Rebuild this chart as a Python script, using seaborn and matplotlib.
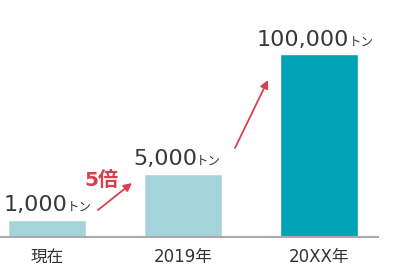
import matplotlib
matplotlib.use("Agg")
import matplotlib.pyplot as plt
import seaborn as sns
import pandas as pd

categories = ["現在", "2019年", "20XX年"]
bar_heights = [17, 63, 183]          # visual (non-proportional) bar heights
value_labels = ["1,000", "5,000", "100,000"]
unit_label = "トン"
ratio_label = "5倍"
bar_colors = ["#a5d3db", "#a5d3db", "#00a3b5"]

sns.set_theme(style="white")
FAM = ['DejaVu Sans', 'Noto Sans CJK JP']
plt.rcParams['font.family'] = FAM

fig = plt.figure(figsize=(4, 2.7), dpi=100)
ax = fig.add_axes([0, (270 - 237) / 270, 378 / 400, 237 / 270])

df = pd.DataFrame({"cat": categories, "h": bar_heights})
sns.barplot(data=df, x="cat", y="h", hue="cat", palette=bar_colors,
            width=0.574, legend=False, ax=ax, saturation=1)

ax.set_xlim(-47 / 136, 2 + 59 / 136)
ax.set_ylim(0, 237)
ax.set_yticks([])
ax.set_xlabel("")
ax.set_ylabel("")
for s in ["top", "left", "right"]:
    ax.spines[s].set_visible(False)
ax.spines["bottom"].set_color("#aaaaaa")
ax.spines["bottom"].set_linewidth(1.5)
ax.tick_params(axis="x", length=0, pad=8, labelsize=12, labelcolor="#333333")
for t in ax.get_xticklabels():
    t.set_family(FAM)

def px(x):
    return (x - 47) / 136

def py(y):
    return 237 - y

# value labels: (number left edge px, baseline px)
label_pos = [(4, 211), (133, 165), (257, 46)]
for (xl, yb), lab in zip(label_pos, value_labels):
    t = ax.text(px(xl), py(yb), lab, ha="left", va="baseline", fontsize=16,
                family="DejaVu Sans", color="#383838", clip_on=False)
    ax.annotate(unit_label, xy=(1, py(yb)), xycoords=(t, "data"),
                xytext=(-0.5, 0), textcoords="offset points",
                ha="left", va="baseline", fontsize=9,
                family="Noto Sans CJK JP", color="#383838",
                annotation_clip=False)

ax.text(px(101), py(186), ratio_label, ha="center", va="baseline",
        fontsize=14.5, family=FAM, fontweight="semibold", color="#d9404f")

arrows = [((98, 210), (132, 183)), ((235, 148), (268, 80))]
for (x0, y0), (x1, y1) in arrows:
    ax.annotate("", xy=(px(x1), py(y1)), xytext=(px(x0), py(y0)),
                arrowprops=dict(arrowstyle="-|>", color="#d9404f", lw=1.3,
                                mutation_scale=12, shrinkA=0, shrinkB=0))

fig.savefig("out.png", dpi=100)
